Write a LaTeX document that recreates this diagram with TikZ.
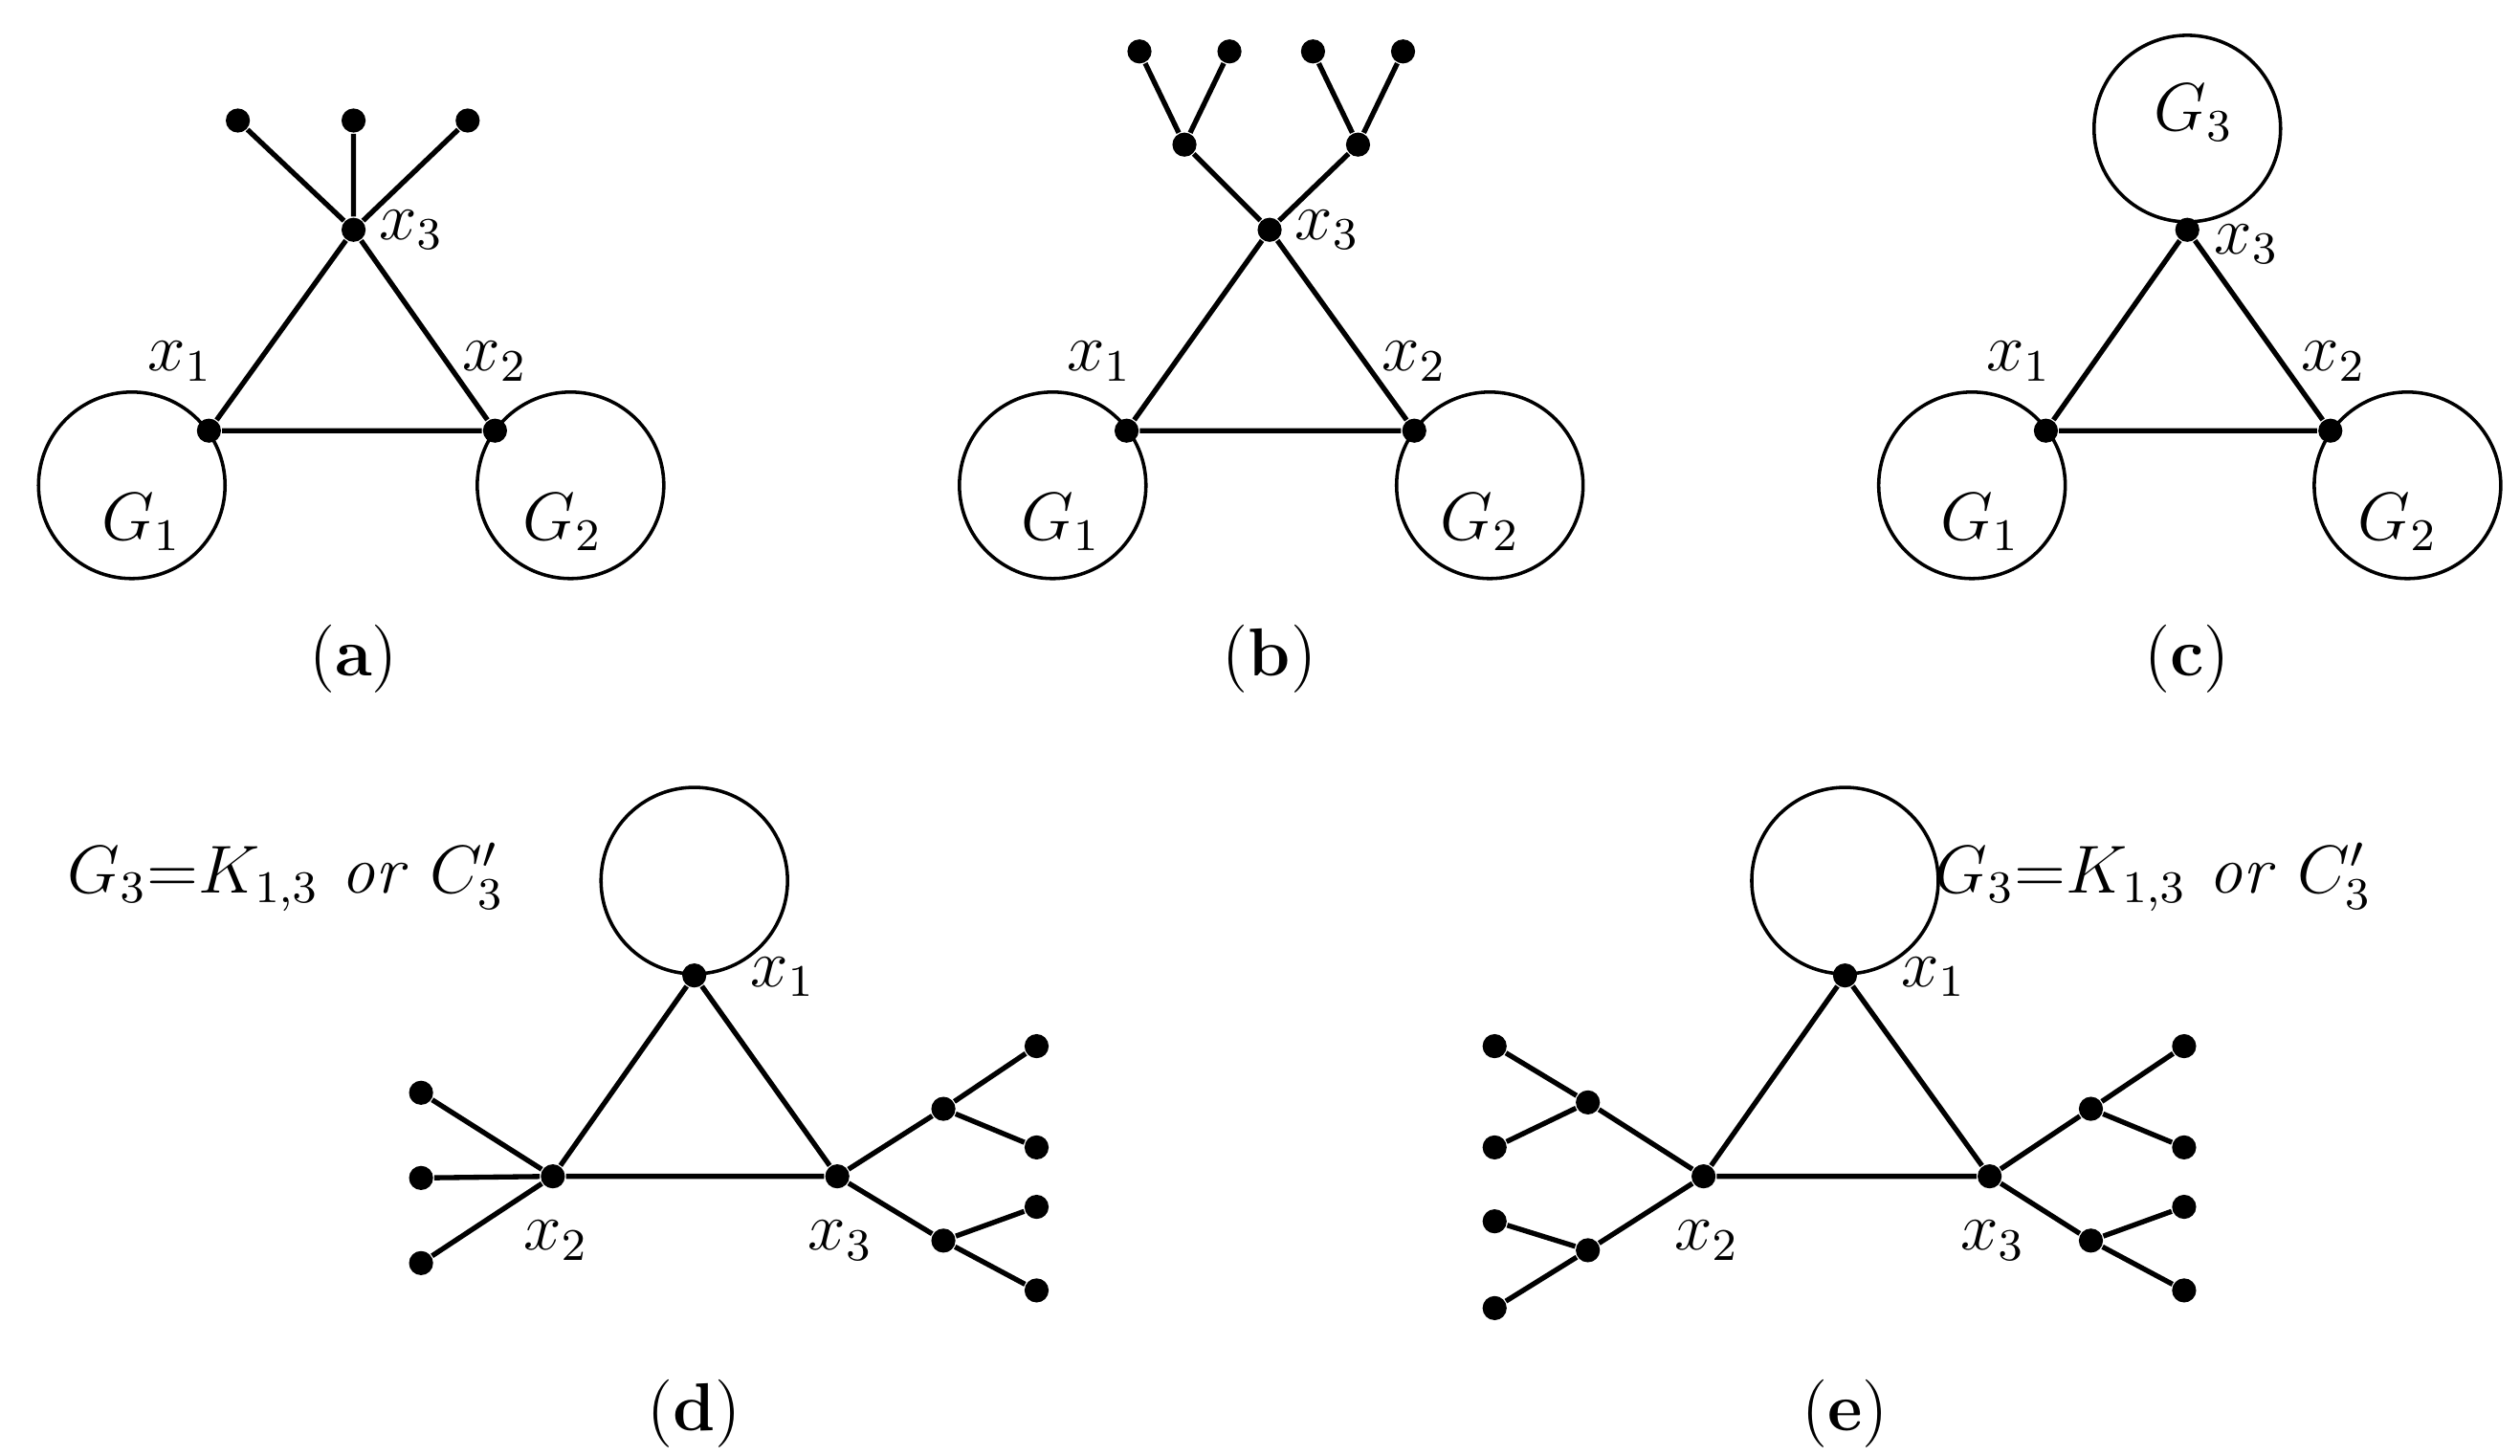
\documentclass[tikz,border=0pt]{standalone}
\begin{document}
\begin{tikzpicture}[x=0.01cm,y=-0.01cm,
  v/.style={circle,fill=black,inner sep=0pt,minimum size=0.15cm},
  e/.style={line width=0.9pt},
  big/.style={circle,draw,line width=0.6pt,minimum size=1.16cm,inner sep=0pt},
  lab/.style={font=\large},
  subcap/.style={font=\large}]
\useasboundingbox (0,0) rectangle (1568,906);
% (a)
\node[big] (ag1) at (82,302) {}; \node[lab] at (88,325) {$G_1$};
\node[big] (ag2) at (355,302) {}; \node[lab] at (350,325) {$G_2$};
\node[v] (a3) at (220,143) {}; \node[v] (a1) at (130,268) {}; \node[v] (a2) at (308,268) {};
\node[v] (al1) at (148,75) {}; \node[v] (al2) at (220,75) {}; \node[v] (al3) at (291,75) {};
\draw[e] (a1)--(a2)--(a3)--(a1) (a3)--(al1) (a3)--(al2) (a3)--(al3);
\node[lab] at (256,143) {$x_3$}; \node[lab] at (112,225) {$x_1$}; \node[lab] at (308,225) {$x_2$};
\node[subcap] at (220,410) {(\textbf{a})};
% (b)
\node[big] (bg1) at (655,302) {}; \node[lab] at (660,325) {$G_1$};
\node[big] (bg2) at (927,302) {}; \node[lab] at (921,325) {$G_2$};
\node[v] (b3) at (790,143) {}; \node[v] (b1) at (701,268) {}; \node[v] (b2) at (880,268) {};
\node[v] (bm1) at (737,90) {}; \node[v] (bm2) at (845,90) {};
\node[v] (bl1) at (709,32) {}; \node[v] (bl2) at (765,32) {}; \node[v] (bl3) at (817,32) {}; \node[v] (bl4) at (873,32) {};
\draw[e] (b1)--(b2)--(b3)--(b1) (b3)--(bm1)--(bl1) (bm1)--(bl2) (b3)--(bm2)--(bl3) (bm2)--(bl4);
\node[lab] at (826,143) {$x_3$}; \node[lab] at (684,225) {$x_1$}; \node[lab] at (880,225) {$x_2$};
\node[subcap] at (790,410) {(\textbf{b})};
% (c)
\node[big] (cg1) at (1227,302) {}; \node[lab] at (1232,325) {$G_1$};
\node[big] (cg2) at (1498,302) {}; \node[lab] at (1492,325) {$G_2$};
\node[big] (cg3) at (1361,80) {}; \node[lab] at (1365,70) {$G_3$};
\node[v] (c3) at (1361,143) {}; \node[v] (c1) at (1273,268) {}; \node[v] (c2) at (1450,268) {};
\draw[e] (c1)--(c2)--(c3)--(c1);
\node[lab] at (1398,152) {$x_3$}; \node[lab] at (1256,225) {$x_1$}; \node[lab] at (1452,225) {$x_2$};
\node[subcap] at (1361,410) {(\textbf{c})};
% (d)
\node[lab] at (178,546) {$G_3{=}K_{1,3}$ \textit{or} $C_3'$};
\node[big] (dg) at (432,548) {};
\node[v] (d1) at (432,607) {}; \node[v] (d2) at (344,732) {}; \node[v] (d3) at (521,732) {};
\node[v] (dl1) at (262,680) {}; \node[v] (dl2) at (262,733) {}; \node[v] (dl3) at (262,786) {};
\node[v] (dm1) at (587,690) {}; \node[v] (dm2) at (587,772) {};
\node[v] (dr1) at (645,651) {}; \node[v] (dr2) at (645,714) {}; \node[v] (dr3) at (645,751) {}; \node[v] (dr4) at (645,803) {};
\draw[e] (d1)--(d2)--(d3)--(d1) (d2)--(dl1) (d2)--(dl2) (d2)--(dl3)
  (d3)--(dm1)--(dr1) (dm1)--(dr2) (d3)--(dm2)--(dr3) (dm2)--(dr4);
\node[lab] at (487,608) {$x_1$}; \node[lab] at (346,772) {$x_2$}; \node[lab] at (523,772) {$x_3$};
\node[subcap] at (432,880) {(\textbf{d})};
% (e)
\node[lab] at (1340,546) {$G_3{=}K_{1,3}$ \textit{or} $C_3'$};
\node[big] (eg) at (1148,548) {};
\node[v] (e1) at (1148,607) {}; \node[v] (e2) at (1060,732) {}; \node[v] (e3) at (1238,732) {};
\node[v] (elm1) at (988,686) {}; \node[v] (elm2) at (988,778) {};
\node[v] (el1) at (930,651) {}; \node[v] (el2) at (930,714) {}; \node[v] (el3) at (930,760) {}; \node[v] (el4) at (930,814) {};
\node[v] (em1) at (1301,690) {}; \node[v] (em2) at (1301,772) {};
\node[v] (er1) at (1359,651) {}; \node[v] (er2) at (1359,714) {}; \node[v] (er3) at (1359,751) {}; \node[v] (er4) at (1359,803) {};
\draw[e] (e1)--(e2)--(e3)--(e1) (e2)--(elm1)--(el1) (elm1)--(el2) (e2)--(elm2)--(el3) (elm2)--(el4)
  (e3)--(em1)--(er1) (em1)--(er2) (e3)--(em2)--(er3) (em2)--(er4);
\node[lab] at (1203,608) {$x_1$}; \node[lab] at (1062,772) {$x_2$}; \node[lab] at (1240,772) {$x_3$};
\node[subcap] at (1148,880) {(\textbf{e})};
\end{tikzpicture}
\end{document}
